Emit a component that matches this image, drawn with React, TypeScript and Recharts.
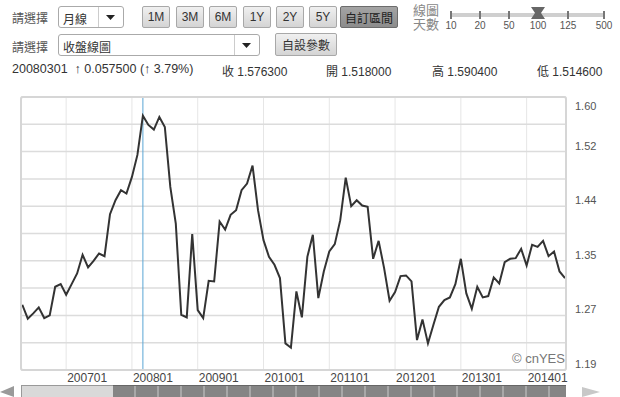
import React from "react";
import { LineChart, Line, XAxis, YAxis, CartesianGrid, ReferenceLine } from "recharts";

// monthly closes, 200605 .. 201408 (100 bars)
const MONTHS = [
  "200605", "200606", "200607", "200608", "200609", "200610", "200611", "200612",
  "200701", "200702", "200703", "200704", "200705", "200706", "200707", "200708", "200709", "200710", "200711", "200712",
  "200801", "200802", "200803", "200804", "200805", "200806", "200807", "200808", "200809", "200810", "200811", "200812",
  "200901", "200902", "200903", "200904", "200905", "200906", "200907", "200908", "200909", "200910", "200911", "200912",
  "201001", "201002", "201003", "201004", "201005", "201006", "201007", "201008", "201009", "201010", "201011", "201012",
  "201101", "201102", "201103", "201104", "201105", "201106", "201107", "201108", "201109", "201110", "201111", "201112",
  "201201", "201202", "201203", "201204", "201205", "201206", "201207", "201208", "201209", "201210", "201211", "201212",
  "201301", "201302", "201303", "201304", "201305", "201306", "201307", "201308", "201309", "201310", "201311", "201312",
  "201401", "201402", "201403", "201404", "201405", "201406", "201407", "201408",
];

const CLOSE = [
  1.288, 1.267, 1.275, 1.284, 1.268, 1.272, 1.315, 1.319,
  1.303, 1.319, 1.335, 1.363, 1.344, 1.354, 1.365, 1.361, 1.424, 1.445, 1.46, 1.455,
  1.48, 1.513, 1.572, 1.558, 1.551, 1.57, 1.555, 1.465, 1.41, 1.273, 1.269, 1.394,
  1.28, 1.268, 1.324, 1.323, 1.413, 1.401, 1.423, 1.43, 1.46, 1.47, 1.497, 1.43,
  1.385, 1.36, 1.348, 1.328, 1.23, 1.2235, 1.308, 1.269, 1.36, 1.393, 1.298, 1.338,
  1.368, 1.379, 1.415, 1.479, 1.436, 1.445, 1.437, 1.435, 1.357, 1.384, 1.343, 1.294,
  1.307, 1.331, 1.332, 1.323, 1.235, 1.266, 1.23, 1.258, 1.285, 1.295, 1.299, 1.319,
  1.357, 1.305, 1.282, 1.315, 1.299, 1.301, 1.329, 1.32, 1.352, 1.357, 1.358, 1.372,
  1.347, 1.378, 1.375, 1.384, 1.361, 1.368, 1.338, 1.328,
];

const X_TICKS = ["200701", "200801", "200901", "201001", "201101", "201201", "201301", "201401"];
const Y_TICKS = [1.19, 1.231, 1.272, 1.313, 1.354, 1.395, 1.436, 1.477, 1.518, 1.559, 1.6];
const Y_LABELS = ["1.19", "", "1.27", "", "1.35", "", "1.44", "", "1.52", "", "1.60"];
const SELECTED_MONTH = "200803";

const RANGE_BUTTONS = ["1M", "3M", "6M", "1Y", "2Y", "5Y"];
const RANGE_LEFT = [142, 176, 209, 243, 276, 309];
const DAY_OPTIONS = ["10", "20", "50", "100", "125", "500"];
const DAY_X = [451, 480, 509, 538, 568, 604];

const FONT = '"Liberation Sans", Arial, "Noto Sans CJK TC", sans-serif';

const chartData = MONTHS.map((m, i) => ({ month: m, close: CLOSE[i] }));

function XTick(props: any) {
  const { x, y, payload } = props;
  return (
    <text x={x + 1} y={y} dominantBaseline="central" textAnchor="start" fontSize={12} fill="#444" fontFamily={FONT}>
      {payload.value}
    </text>
  );
}

function YTick(props: any) {
  const { x, y, payload } = props;
  const idx = Y_TICKS.indexOf(payload.value);
  const label = Y_LABELS[idx];
  if (!label) return <g />;
  const isTop = idx === Y_TICKS.length - 1;
  return (
    <text x={x} y={y + (isTop ? 9 : -6)} dominantBaseline="central" textAnchor="start" fontSize={11} fill="#555" fontFamily={FONT}>
      {label}
    </text>
  );
}

const abs = (left: number, top: number, extra: React.CSSProperties = {}): React.CSSProperties => ({
  position: "absolute",
  left,
  top,
  ...extra,
});

const buttonStyle: React.CSSProperties = {
  height: 22,
  boxSizing: "border-box",
  border: "1px solid #a8a8a8",
  borderRadius: 2,
  background: "linear-gradient(#f0f0f0, #d4d4d4)",
  color: "#333",
  fontSize: 12,
  display: "flex",
  alignItems: "center",
  justifyContent: "center",
};

function SelectBox({ left, top, width, text }: { left: number; top: number; width: number; text: string }) {
  return (
    <div
      style={abs(left, top, {
        width,
        height: 22,
        boxSizing: "border-box",
        border: "1px solid #aaa",
        borderRadius: 3,
        background: "#fff",
        fontSize: 12,
        color: "#333",
      })}
    >
      <span style={abs(4, 3)}>{text}</span>
      <div style={abs(width - 27, 0, { width: 1, height: 20, background: "#ccc" })} />
      <svg style={abs(width - 19, 8)} width={9} height={5}>
        <polygon points="0,0 9,0 4.5,5" fill="#222" />
      </svg>
    </div>
  );
}

function Toolbar() {
  return (
    <>
      <span style={abs(12, 9, { fontSize: 12, color: "#555" })}>請選擇</span>
      <SelectBox left={58} top={6} width={66} text="月線" />
      {RANGE_BUTTONS.map((b, i) => (
        <div key={b} style={{ ...abs(RANGE_LEFT[i], 6), ...buttonStyle, width: 28 }}>
          {b}
        </div>
      ))}
      <div
        style={{
          ...abs(340, 6),
          ...buttonStyle,
          width: 58,
          background: "linear-gradient(#a4a4a4, #8c8c8c)",
          border: "1px solid #6c6c6c",
          color: "#222",
        }}
      >
        自訂區間
      </div>

      <span style={abs(413, 4, { fontSize: 13, color: "#888", lineHeight: "14px", width: 28 })}>
        線圖
        <br />
        天數
      </span>
      <div style={abs(451, 13, { width: 153, height: 4, background: "#cfcfcf" })} />
      {DAY_OPTIONS.map((d, i) => (
        <React.Fragment key={d}>
          <div style={abs(DAY_X[i] - 1, 11, { width: 2, height: 8, background: "#777" })} />
          <span style={abs(DAY_X[i] - 12, 20, { width: 24, textAlign: "center", fontSize: 10, color: "#555" })}>{d}</span>
        </React.Fragment>
      ))}
      <svg style={abs(531, 7)} width={14} height={12}>
        <polygon points="0,0 14,0 10,6 14,12 0,12 4,6" fill="#666" />
      </svg>

      <span style={abs(12, 38, { fontSize: 12, color: "#555" })}>請選擇</span>
      <SelectBox left={58} top={34} width={202} text="收盤線圖" />
      <div style={{ ...abs(275, 33), ...buttonStyle, width: 62, height: 23 }}>自設參數</div>

      <div style={abs(12, 62, { fontSize: 12.5, color: "#333", whiteSpace: "nowrap" })}>
        20080301&nbsp;&nbsp;↑ 0.057500 (↑ 3.79%)
      </div>
      <span style={abs(222, 62, { fontSize: 12, color: "#333" })}>收 1.576300</span>
      <span style={abs(326, 62, { fontSize: 12, color: "#333" })}>開 1.518000</span>
      <span style={abs(432, 62, { fontSize: 12, color: "#333" })}>高 1.590400</span>
      <span style={abs(537, 62, { fontSize: 12, color: "#333" })}>低 1.514600</span>
    </>
  );
}

function Scrollbar() {
  return (
    <>
      <svg style={abs(0, 386)} width={14} height={11}>
        <polygon points="14,0 14,11 0,6" fill="#9a9a9a" />
      </svg>
      <div
        style={abs(21, 385, {
          width: 92,
          height: 12,
          background: "#d9d9d9",
          borderTop: "1px solid #999",
          borderLeft: "1px solid #999",
          boxSizing: "border-box",
        })}
      />
      <div
        style={abs(113, 385, {
          width: 453,
          height: 12,
          background: "repeating-linear-gradient(90deg, #858585 0px, #858585 21px, #a8a8a8 21px, #a8a8a8 23px)",
          borderTop: "1px solid #666",
          boxSizing: "border-box",
        })}
      />
      <svg style={abs(582, 387)} width={18} height={10}>
        <polygon points="0,0 18,5 0,10" fill="#c8c8c8" />
      </svg>
    </>
  );
}

export default function App() {
  return (
    <div
      style={{
        position: "fixed",
        left: 0,
        top: 0,
        width: 620,
        height: 397,
        overflow: "hidden",
        background: "#fff",
        fontFamily: FONT,
      }}
    >
      <Toolbar />
      <div style={abs(0, 0)}>
        <LineChart width={620} height={397} data={chartData} margin={{ top: 97, right: 0, bottom: 0, left: 21 }}>
          <CartesianGrid horizontal={false} stroke="#e6e6e6" strokeWidth={1} />
          <CartesianGrid vertical={false} stroke="#dcdcdc" strokeWidth={1.5} />
          <XAxis
            dataKey="month"
            ticks={X_TICKS}
            interval={0}
            height={27}
            padding={{ left: 1.3, right: 1 }}
            axisLine={false}
            tickLine={false}
            tickSize={0}
            tickMargin={8}
            tick={<XTick />}
          />
          <YAxis
            orientation="right"
            domain={[1.19, 1.6]}
            ticks={Y_TICKS}
            interval={0}
            width={54}
            axisLine={false}
            tickLine={false}
            tickSize={0}
            tickMargin={9}
            tick={<YTick />}
          />
          <ReferenceLine x={SELECTED_MONTH} stroke="#5aa5d4" strokeWidth={1} />
          <Line
            type="linear"
            dataKey="close"
            stroke="#333"
            strokeWidth={2}
            dot={false}
            activeDot={false}
            isAnimationActive={false}
          />
        </LineChart>
      </div>
      <div
        style={abs(20, 96, {
          width: 547,
          height: 275,
          border: "2px solid #d6d6d6",
          borderRadius: 3,
          boxSizing: "border-box",
          pointerEvents: "none",
        })}
      />
      <span style={abs(512, 351, { fontSize: 13, color: "#777" })}>© cnYES</span>
      <Scrollbar />
    </div>
  );
}
